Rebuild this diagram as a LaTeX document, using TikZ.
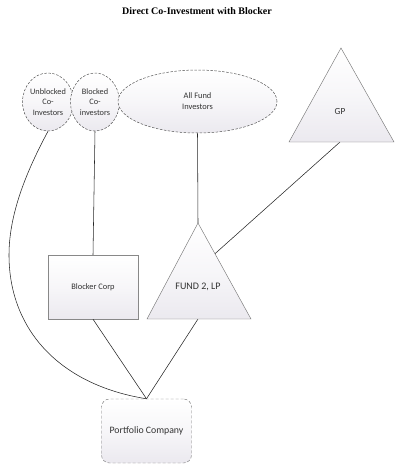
\documentclass[tikz,border=0pt]{standalone}
\usepackage{fontspec}
\setmainfont{Carlito}
\newfontfamily\titlefont{Liberation Serif}
\usetikzlibrary{shapes.geometric,calc}
\definecolor{txt}{HTML}{333333}
\definecolor{bord}{HTML}{555555}
\definecolor{fillb}{HTML}{EBE9EF}
\tikzset{
  shade box/.style={top color=white, bottom color=fillb, middle color=white!60!fillb},
  dashshape/.style={ellipse, draw=bord, dashed, dash pattern=on 2.5pt off 1.5pt, line width=0.5pt, shade box, align=center, text=txt, inner sep=0pt},
  tri/.style={draw=bord!80, line width=0.45pt, shade box},
  conn/.style={draw=black!85, line width=0.55pt},
  lbl/.style={text=txt, align=center, font=\fontsize{8.4}{10.5}\selectfont},
}
\begin{document}
\begin{tikzpicture}[x=1pt,y=-1pt]
\useasboundingbox (0,0) rectangle (407,474);
% title
\node[font=\titlefont\bfseries\fontsize{10}{12}\selectfont] (title) at (197,11) {Direct Co-Investment with Blocker};
% triangle coordinates
\coordinate (gA) at (341,48);
\coordinate (gL) at (289,142);
\coordinate (gR) at (394,142);
\coordinate (gB) at (340,142);
\coordinate (fA) at (198,223);
\coordinate (fL) at (147,319);
\coordinate (fR) at (251,319);
\coordinate (fB) at (198,319);
\coordinate (fS) at ($(fA)!0.32!(fR)$);
% nodes
\node[dashshape, minimum width=51, minimum height=58, font=\fontsize{8.3}{10.5}\selectfont] (unb) at (48,102) {Unblocked\\Co-\\Investors};
\node[dashshape, minimum width=49, minimum height=58, font=\fontsize{8.3}{10.5}\selectfont] (blk) at (95,102) {Blocked\\Co-\\investors};
\node[dashshape, minimum width=159, minimum height=63, font=\fontsize{8.4}{11}\selectfont] (all) at (197.5,101.5) {All Fund\\Investors};
\node[rectangle, draw=bord!70, line width=0.45pt, shade box, minimum width=90, minimum height=64, inner sep=0pt, lbl] (blocker) at (93,287) {Blocker Corp};
\node[rectangle, rounded corners=8pt, draw=bord!80, dashed, dash pattern=on 3pt off 2pt, line width=0.45pt, shade box, minimum width=90, minimum height=64, inner sep=0pt, text=txt, font=\fontsize{9.8}{12}\selectfont] (pc) at (146.5,431) {Portfolio Company};
% connectors
\draw[conn] (blk.south) -- (blocker.north);
\draw[conn] (all.south) -- (fA);
\draw[conn] (gB) -- (fS);
\draw[conn] (blocker.south) -- (pc.north);
\draw[conn] (fB) -- (pc.north);
\draw[conn] (unb.south) .. controls (30,165) and (9,210) .. (9,255) .. controls (9,330) and (60,385) .. (pc.north);
% triangles
\draw[tri] (gA) -- (gR) -- (gL) -- cycle;
\draw[tri] (fA) -- (fR) -- (fL) -- cycle;
\node[text=txt, font=\fontsize{9.3}{11}\selectfont] (gp) at (340,112) {GP};
\node[text=txt, font=\fontsize{10}{12}\selectfont] (fund) at (198,287) {FUND 2, LP};
\end{tikzpicture}
\end{document}
